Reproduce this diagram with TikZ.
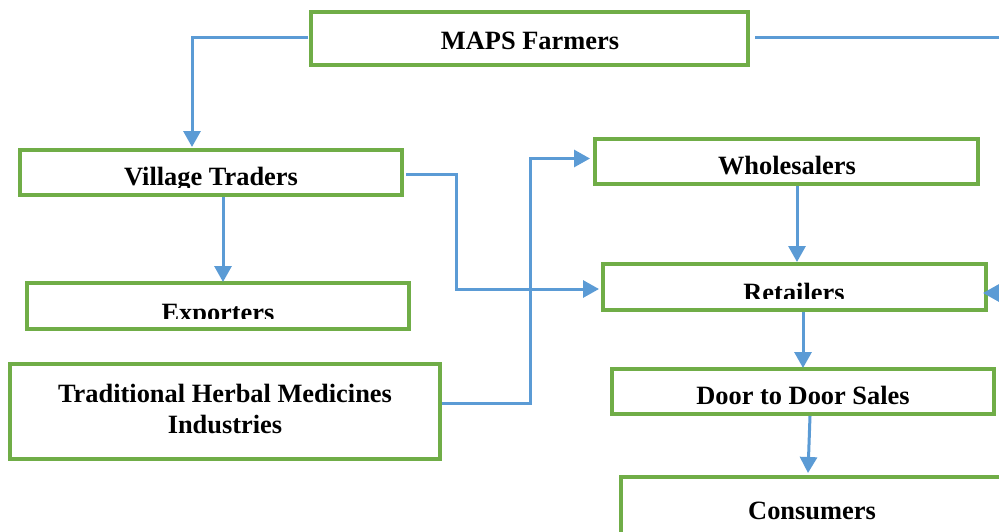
\documentclass[tikz,border=0pt]{standalone}
\usepackage{fontspec}
\setmainfont{Liberation Serif}
\usetikzlibrary{arrows.meta}
\definecolor{boxgreen}{HTML}{70AD47}
\definecolor{lineblue}{HTML}{5B9BD5}
\begin{document}
\begin{tikzpicture}[x=1pt,y=-1pt,
  box/.style={draw=boxgreen,line width=3.3pt,fill=none,inner sep=0pt,outer sep=0pt,anchor=north west},
  lbl/.style={font=\fontsize{26.4}{32}\selectfont\bfseries,anchor=base,inner sep=0pt,align=center},
  arr/.style={draw=lineblue,line width=3pt,line join=miter,-{Triangle[length=16pt,width=17pt]}}]
\clip (0,0) rectangle (999,531);
\fill[white] (0,0) rectangle (999,531);
% boxes
\node[box,minimum width=437pt,minimum height=53pt] (maps) at (311,12) {};
\node[box,minimum width=382pt,minimum height=45pt] (vt) at (20,150) {};
\node[box,minimum width=382pt,minimum height=46pt] (exp) at (27,283) {};
\node[box,minimum width=430pt,minimum height=95pt] (trad) at (10,364) {};
\node[box,minimum width=383pt,minimum height=45pt] (wh) at (595,139) {};
\node[box,minimum width=383pt,minimum height=46pt] (ret) at (603,264) {};
\node[box,minimum width=382pt,minimum height=45pt] (door) at (612,369) {};
\node[box,minimum width=382pt,minimum height=70pt] (cons) at (621,477) {};
% labels
\node[lbl] (mapsT) at (530,49) {MAPS Farmers};
\begin{scope}
  \clip (20,150) rectangle (402,187);
  \node[lbl] (vtT) at (211,185) {Village Traders};
\end{scope}
\begin{scope}
  \clip (27,283) rectangle (409,318);
  \node[lbl] (expT) at (218,321) {Exporters};
\end{scope}
\node[lbl] (tradT1) at (225,402) {Traditional Herbal Medicines};
\node[lbl] (tradT2) at (225,433) {Industries};
\node[lbl] (whT) at (787,174) {Wholesalers};
\begin{scope}
  \clip (603,264) rectangle (986,298);
  \node[lbl] (retT) at (794,301) {Retailers};
\end{scope}
\node[lbl] (doorT) at (803,404) {Door to Door Sales};
\node[lbl] (consT) at (812,519) {Consumers};
% connectors
\draw[arr] ([xshift=-3pt,yshift=1.5pt]maps.west) -| ([xshift=-19pt,yshift=3pt]vt.north);
\draw[arr] ([xshift=7pt,yshift=1.5pt]maps.east) -- ++(270,0) |- ([xshift=-3pt,yshift=-6pt]ret.east);
\draw[arr] ([xshift=4pt,yshift=-1.5pt]vt.east) -- ++(50,0) |- ([xshift=-4pt,yshift=-2pt]ret.west);
\draw[arr] ([xshift=2pt,yshift=8.5pt]trad.east) -- ++(88,0) |- ([xshift=-5pt,yshift=3pt]wh.west);
\draw[arr] ([xshift=12pt,yshift=-2pt]vt.south) -- ([xshift=5pt,yshift=1pt]exp.north);
\draw[arr] ([xshift=10.5pt,yshift=-2pt]wh.south) -- ([xshift=2.5pt,yshift=2pt]ret.north);
\draw[arr] ([xshift=8.5pt,yshift=-2pt]ret.south) -- ([yshift=1pt]door.north);
\draw[arr] ([xshift=7pt,yshift=-2pt]door.south) -- ([xshift=-4pt,yshift=4pt]cons.north);
\end{tikzpicture}
\end{document}
